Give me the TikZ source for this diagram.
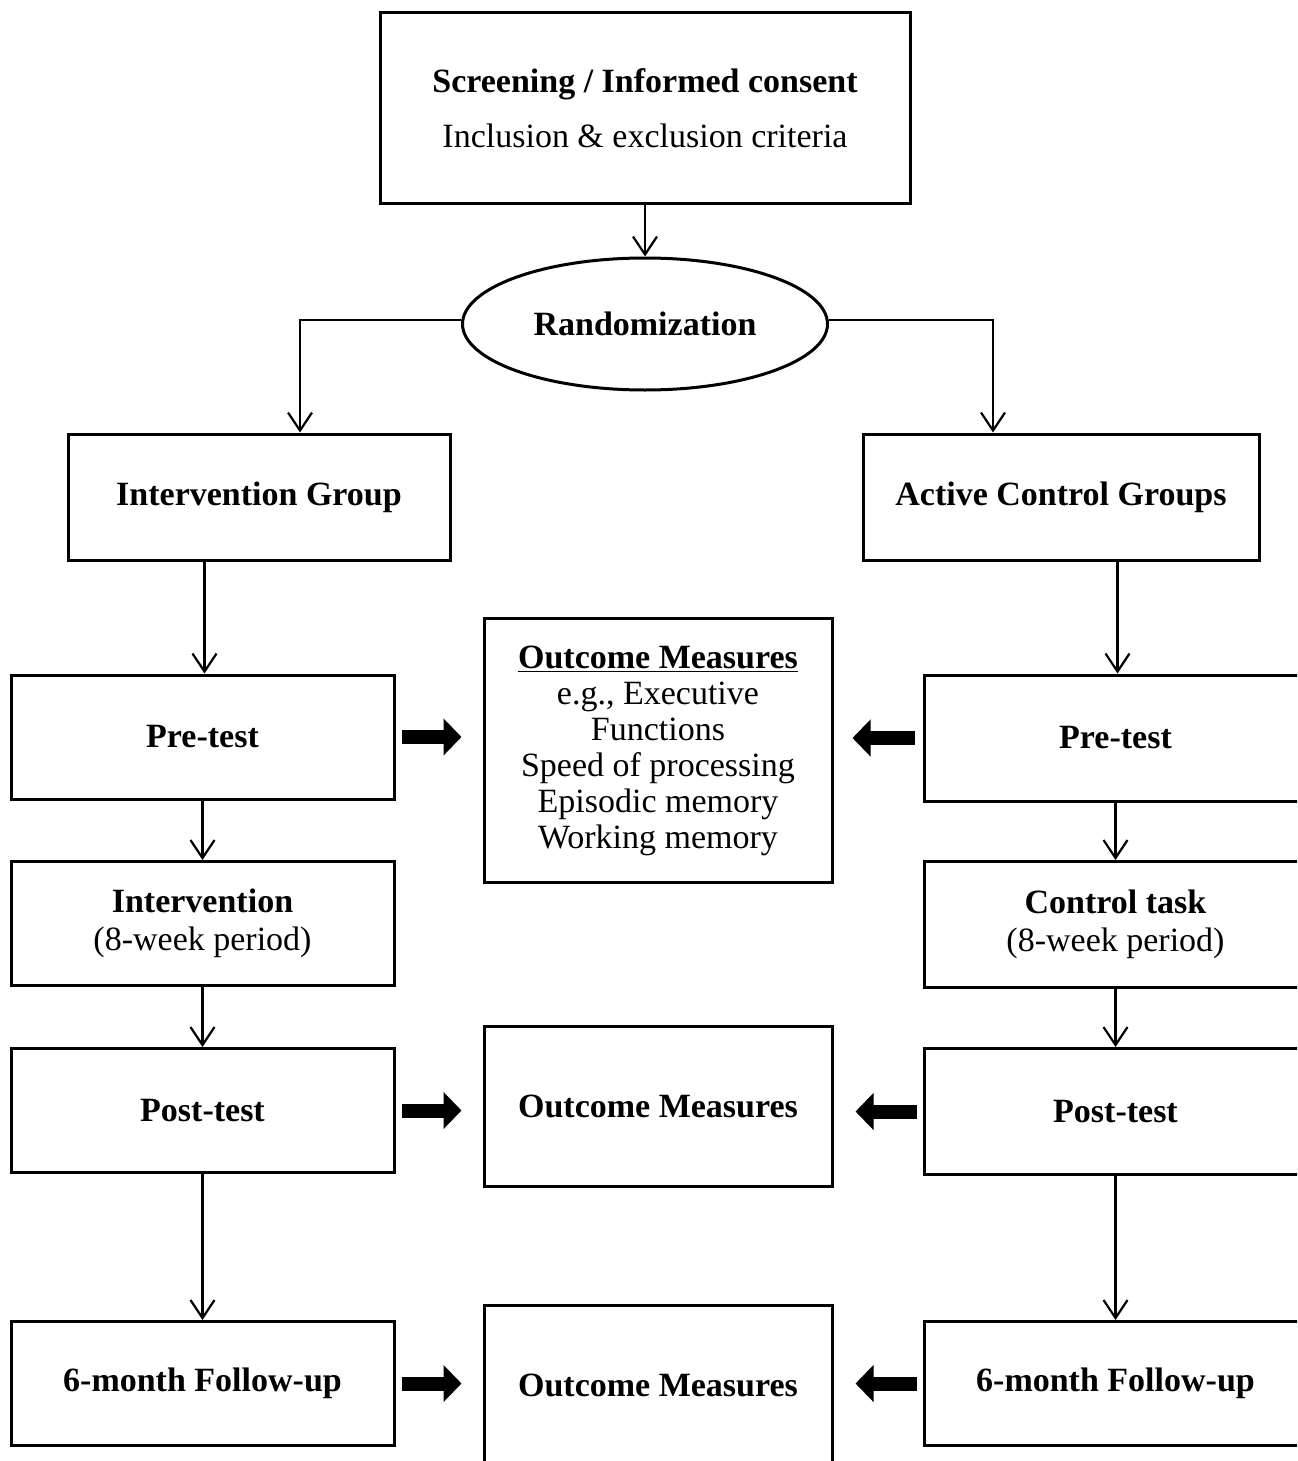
\documentclass[tikz,border=0pt]{standalone}
\usepackage{fontspec}
\setmainfont{Liberation Serif}
\usetikzlibrary{arrows.meta,shapes.geometric}

\tikzset{
  box/.style={draw, line width=1.5pt, inner sep=0pt, align=center,
    font=\fontsize{17}{19}\selectfont},
  sidebox/.style={box, minimum width=191.5pt, minimum height=62pt},
  measbox/.style={box, minimum width=174pt, font=\fontsize{17}{18}\selectfont},
  flow/.style={->, line width=1.1pt},
  blockarrow/.style={line width=7pt, -{Triangle[length=9pt,width=18pt]}}
}

\begin{document}
\begin{tikzpicture}[x=0.5pt, y=-0.5pt, >={Straight Barb[length=9pt,width=12pt]}]
			% Page frame, boxes at the edge are cut off
			\useasboundingbox (0,0) rectangle (1297,1461);
			\clip (0,0) rectangle (1297,1461);
			
			% Screening and randomization
			\node[box, minimum width=265pt, minimum height=95pt] (screen) at (645,108)
				{\textbf{Screening / Informed consent}\\[8.5pt] Inclusion \& exclusion criteria};
			\node[box, ellipse, minimum width=182.5pt, minimum height=66pt] (rand) at (645,324)
				{\textbf{Randomization}};
			
			% The two groups
			\node[box, minimum width=191pt, minimum height=63pt] (igroup) at (259,497) {\textbf{Intervention Group}};
			\node[box, minimum width=198pt, minimum height=63pt] (cgroup) at (1061,497) {\textbf{Active Control Groups}};
			
			% Left column
			\node[sidebox] (pretest1) at (202.5,737) {\textbf{Pre-test}};
			\node[sidebox] (interv) at (202.5,923.5) {\textbf{Intervention}\\(8-week period)};
			\node[sidebox] (posttest1) at (202.5,1110.5) {\textbf{Post-test}};
			\node[sidebox] (follow1) at (202.5,1383.5) {\textbf{6-month Follow-up}};
			
			% Right column
			\node[sidebox, minimum height=63pt] (pretest2) at (1115.5,738) {\textbf{Pre-test}};
			\node[sidebox, minimum height=63pt] (ctrltask) at (1115.5,924.5) {\textbf{Control task}\\(8-week period)};
			\node[sidebox, minimum height=63pt] (posttest2) at (1115.5,1111.5) {\textbf{Post-test}};
			\node[sidebox] (follow2) at (1115.5,1383.5) {\textbf{6-month Follow-up}};
			
			% Outcome measures in the middle
			\node[measbox, minimum height=132pt, text depth=3pt] (meas1) at (658,750)
				{\underline{\textbf{Outcome Measures}}\\e.g., Executive\\Functions\\Speed of processing\\Episodic memory\\Working memory};
			\node[measbox, minimum height=80pt] (meas2) at (658,1106) {\textbf{Outcome Measures}};
			\node[measbox, minimum height=80pt] (meas3) at (658,1385) {\textbf{Outcome Measures}};
			
			% Thin arrows
			\draw[flow] (screen) -- (rand);
			\draw[flow] ([yshift=2pt]rand.west) -| ([xshift=20.5pt]igroup.north);
			\draw[flow] ([yshift=2pt]rand.east) -| ([xshift=-34pt]cgroup.north);
			\draw[flow] ([xshift=1pt]igroup.south -| pretest1.north) -- ([xshift=1pt]pretest1.north);
			\draw[flow] ([xshift=1pt]cgroup.south -| pretest2.north) -- ([xshift=1pt]pretest2.north);
			\draw[flow] (pretest1) -- (interv);
			\draw[flow] (interv) -- (posttest1);
			\draw[flow] (posttest1) -- (follow1);
			\draw[flow] (pretest2) -- (ctrltask);
			\draw[flow] (ctrltask) -- (posttest2);
			\draw[flow] (posttest2) -- (follow2);
			
			% Block arrows to the outcome measures
			\draw[blockarrow] ([xshift=3pt]pretest1.east) -- ([xshift=-10.5pt]pretest1.east -| meas1.west);
			\draw[blockarrow] ([xshift=3pt]posttest1.east) -- ([xshift=-10.5pt]posttest1.east -| meas2.west);
			\draw[blockarrow] ([xshift=3pt]follow1.east) -- ([xshift=-10.5pt]follow1.east -| meas3.west);
			\draw[blockarrow] ([xshift=-4pt]pretest2.west) -- ([xshift=9.5pt]pretest2.west -| meas1.east);
			\draw[blockarrow] ([xshift=-3pt]posttest2.west) -- ([xshift=11pt]posttest2.west -| meas2.east);
			\draw[blockarrow] ([xshift=-3pt]follow2.west) -- ([xshift=11pt]follow2.west -| meas3.east);
			
		\end{tikzpicture}
\end{document}
